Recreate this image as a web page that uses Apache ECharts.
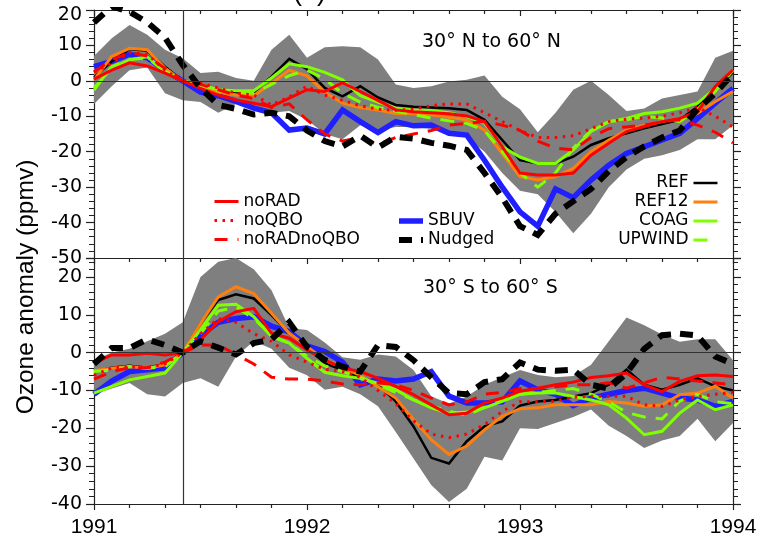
<!DOCTYPE html>
<html><head><meta charset="utf-8">
<script src="https://cdn.jsdelivr.net/npm/echarts@6/dist/echarts.min.js"></script>
<style>html,body{margin:0;padding:0;background:#fff}#c{width:761px;height:543px}</style>
</head><body><div id="c"></div>
<script>
// ---- time axis (monthly, Jan 1991 .. Jan 1994) ----
const months = ['1991-01','1991-02','1991-03','1991-04','1991-05','1991-06','1991-07','1991-08','1991-09','1991-10','1991-11','1991-12',
  '1992-01','1992-02','1992-03','1992-04','1992-05','1992-06','1992-07','1992-08','1992-09','1992-10','1992-11','1992-12',
  '1993-01','1993-02','1993-03','1993-04','1993-05','1993-06','1993-07','1993-08','1993-09','1993-10','1993-11','1993-12','1994-01'];
const eruption = 1991 + 5/12;
const yearTicks = [1991, 1992, 1993, 1994];
const panelLabels = ['30\u00B0 N to 60\u00B0 N', '30\u00B0 S to 60\u00B0 S'];

// ---- 30N-60N ----
const upperN = [7,12,15.8,13,8.8,6.4,2.2,2.6,0.8,0,8.8,13,6.5,9.5,9.8,9.5,6,-1,-2,-1.5,-0.2,0.3,1.5,-4.5,-8,-14.5,-9,-2.5,0,-4,-8.5,-7.8,-5,-4,-3,6.5,8.5];
const lowerN = [-6.5,-1.5,3,3.8,-3.5,-5.5,-6,-9,-6.5,-8,-9,-8.5,-11,-15,-16.5,-12.5,-14,-13,-13,-13.5,-14.5,-16,-20,-26,-31,-32,-37,-43,-37.5,-30,-25,-22,-21,-19.5,-16.5,-16.5,-12.5];
const sbuvN = [4,5.5,7.5,6.5,3,0,-3.2,-4.2,-5.8,-7.7,-9,-13.9,-13.3,-15,-8.2,-11.5,-14.6,-11.5,-12.7,-12.5,-14.8,-15.3,-22.4,-30,-37,-41,-30.5,-33,-28,-23.8,-20.5,-18.6,-16.7,-14.8,-10.6,-6.3,-2.1];
const nudgedN = [16.5,21,19.5,16.5,12.2,4.5,-2,-6.8,-7.9,-9.5,-9,-10,-14,-17,-18.5,-15.5,-18.8,-15.8,-16.3,-17.5,-18.3,-19.5,-26,-33,-41,-43.5,-37.5,-34,-30.5,-25.5,-21.5,-18.5,-16,-14,-8,-3.5,2];
const refN = [1,5.5,9,8.5,4,0,-1.6,-2.5,-3.2,-3.2,1.2,6.2,3.3,-2,-4.4,-1.5,-4.7,-6.8,-7.3,-7.5,-7.7,-8.2,-11,-16.7,-22.4,-23.3,-23.3,-21.4,-18.1,-16.2,-14.8,-13.4,-12.2,-11,-7.3,-2.5,2.4];
const ref12N = [0.3,6.9,9.2,8.8,3.6,0,-1.6,-3.2,-4,-4.2,-0.7,3,1.4,-3.2,-6.3,-7.5,-8.2,-9.2,-9.3,-9.6,-10.3,-11,-13.9,-20.5,-27,-28,-27,-24.7,-20,-16.7,-13.9,-12.5,-11.5,-10.6,-9.2,-5.8,-3];
const coagN = [-2,3.6,6,6.8,2.8,0,-1.1,-2.5,-2.8,-2.8,0.8,4.8,4,2.4,0.3,-4.2,-6,-7.7,-8.2,-8.4,-9,-10.1,-12,-18.6,-21.5,-23.3,-23.3,-19.5,-14.3,-11.5,-10.6,-9.2,-8.7,-7.7,-6.3,-2.1,3.1];
const upwindN = [-2.6,4,6,6.5,2.5,0,-1.3,-2.8,-3.2,-3.5,-1,1.5,3,0.5,-3.5,-6,-7.5,-8.5,-9.5,-10.5,-11.3,-12,-14,-20,-26,-30,-26,-19,-14,-11.5,-11,-10,-10.5,-11.5,-8,-3,3];
const noRadN = [0.5,3,5.1,4.2,2.2,0,-2.1,-4,-5.4,-6.3,-7.3,-4.9,-2.5,-3,-0.5,-3,-5.5,-8.2,-8.7,-9,-9.3,-9.9,-11.5,-18.6,-26,-26.6,-26.6,-26,-21,-17.6,-14.3,-12.9,-11.5,-10.6,-8.7,-1.6,3.1];
const noQboN = [2.5,5,8,7.5,3,0,-0.7,-2,-3.5,-4,-6.8,-4.5,-1.5,-4,-5.5,-7,-8,-8.3,-8,-7,-6.5,-6.5,-9,-11.5,-14,-16,-16,-15.5,-13.5,-11.5,-10.8,-10.5,-10,-9,-7.5,-10,-13];
const noRadNoQboN = [2.5,6,8,7,3.5,0,-1,-2.5,-4,-5,-7.5,-6.5,-11,-15,-17,-16,-18,-16,-15,-14,-12.5,-12,-11.5,-12.5,-14,-17,-19,-19.5,-16,-13.5,-13,-12.5,-11.5,-11,-12.5,-14.5,-17.5];

// ---- 30S-60S ----
const upperS = [-2,0,1,3,5,8,20,24,25,22,16.5,6.5,6,2.7,-1.2,-1.9,-0.5,-1,-4.6,-11.5,-13.5,-11.6,-8.5,-6.5,-4.6,-5.9,-6.5,-6.2,-3.2,3,9.3,7.2,4.8,2.9,3.5,3.5,-2];
const lowerS = [-11,-9.5,-8,-11,-11.6,-8,-6.8,-9,-1,3,1,-4,-6,-9.8,-9,-11,-14.2,-21,-28,-35,-39.5,-36,-27.5,-28.5,-20,-20.2,-18.6,-17,-15,-19.3,-22,-25.2,-23.2,-22,-17.5,-23.4,-18.6];
const sbuvS = [-11,-7.5,-5,-4.5,-4,0,4.5,8,9,9.5,7,5.5,1.8,0.3,-2.5,-8.5,-7,-7.5,-7,-5,-11.5,-13.3,-13.3,-13,-7.5,-9.8,-11,-14,-12,-11,-10,-9.4,-10.7,-12,-12.5,-14.2,-12.9];
const nudgedS = [-3,1.2,1.2,3.5,2,0,3,1.3,-0.5,2.5,3.5,8,1.5,-1.9,-3.7,-5,2,1.5,-2,-6.5,-10.7,-11,-7.8,-7,-2.6,-4.5,-4.8,-4.5,-8.5,-9.5,-5.5,1,4.6,5,4.5,-1,-3];
const refS = [-5,-4,-3.5,-4,-3,0,7.7,13.9,15.4,14.3,9.9,5.1,1.6,-2.8,-4.6,-6.3,-8.5,-12.9,-19.5,-27.8,-29.3,-23.4,-19.5,-18.2,-14,-12.9,-12.5,-11.6,-10.7,-8.5,-4.5,-8.5,-9.8,-8.5,-6.8,-8.9,-10];
const ref12S = [-4.8,-4.1,-3.7,-4.1,-3.2,0,7.7,14.7,17.4,15.6,10.4,5.1,1.6,-2,-4,-6,-9,-12,-17.7,-23,-26.9,-24.7,-20.4,-16.8,-14.8,-14.6,-13.8,-13.8,-13.8,-12.9,-13.3,-14.2,-13.8,-11.1,-10.7,-8.9,-12];
const coagS = [-10.7,-8.9,-7.2,-6.3,-5.4,0,6,12.5,12.8,9.5,4.2,2.5,-1.5,-5.2,-6.1,-6.8,-8.1,-9.8,-12.5,-14.6,-16,-15.7,-14.6,-12.9,-11,-10.7,-10.7,-11.6,-12.5,-13.8,-17.3,-21.7,-20.8,-16,-12.5,-15.1,-13.8];
const upwindS = [-5,-4.6,-3.7,-4.1,-3.7,0,5,11,12,9,4.5,2.5,-1,-3.5,-5,-6.5,-8.5,-10.5,-12.5,-14,-15.5,-16.5,-14.5,-12.5,-11,-10.5,-10,-9.5,-11,-13,-15.8,-17,-17.5,-12.8,-11,-13,-13.5];
const noRadS = [-2.8,-0.6,-0.6,-0.2,-0.6,0,3.3,8.2,10.8,11.7,5.1,3.8,0.7,-1.9,-4.1,-5,-6.8,-8.9,-11.1,-13.8,-16.4,-16,-13.3,-12,-10.2,-9.4,-8.5,-7.8,-6.6,-6.1,-5.4,-8.5,-10.3,-7.6,-6.1,-5.9,-6.3];
const noQboS = [-6,-4,-3.7,-4,-3,0,5,9,8,5,3,-0.6,-2.5,-4.4,-5,-6.5,-10,-13.5,-18,-21.5,-22.5,-21.5,-19,-15.5,-13,-13,-12.8,-11.8,-11.5,-11.5,-11.5,-13.8,-14.2,-12.5,-11.6,-11,-10.5];
const noRadNoQboS = [-7,-5,-4,-4,-2.5,0,2,2,-0.5,-3,-6.5,-7,-7,-7.5,-8.3,-8.5,-8,-8.5,-10,-12,-13.8,-13,-11,-10.5,-9.5,-9.5,-9,-8.5,-8.5,-8,-9.4,-8,-6.5,-7,-7.5,-8,-8.5];

// ---- build ----
const t = months.map(s => { const p = s.split('-').map(Number); return p[0] + (p[1] - 1) / 12; });
const pair = arr => arr.map((v, i) => [t[i], v]);

const styles = {
  'noRAD':      {color:'#ff0000', width:3,   type:'solid'},
  'noQBO':      {color:'#ff0000', width:3,   type:[2.5,5.5]},
  'noRADnoQBO': {color:'#ff0000', width:3,   type:[13,10]},
  'SBUV':       {color:'#1f1fff', width:5.5, type:'solid'},
  'Nudged':     {color:'#000000', width:6,   type:[13,9]},
  'REF':        {color:'#000000', width:2.5, type:'solid'},
  'REF12':      {color:'#ff7f0e', width:3,   type:'solid'},
  'COAG':       {color:'#80ff00', width:3,   type:'solid'},
  'UPWIND':     {color:'#80ff00', width:3,   type:[14,10]}
};
const refLines = {silent:true, symbol:'none', label:{show:false}, animation:false,
  lineStyle:{color:'#333', width:1.2, type:'solid'}, data:[{yAxis:0}, {xAxis:eruption}]};

function line(name, data, gi) {
  const s = styles[name];
  const ser = {
    name, type:'line', xAxisIndex: gi === 0 ? 0 : 2, yAxisIndex: gi === 0 ? 0 : 2,
    data: pair(data), symbol:'none', silent:true, z:3, clip:true,
    lineStyle:{color:s.color, width:s.width, type:s.type, cap:'butt', join:'miter'},
    itemStyle:{color:s.color}
  };
  if (name === 'SBUV') ser.markLine = refLines;
  return ser;
}
function envelope(lower, upper, gi) {
  const xi = gi === 0 ? 0 : 2;
  const data = lower.map((l, i) => [t[i], l, upper[i]]);
  return {
    type:'custom', xAxisIndex:xi, yAxisIndex:xi, silent:true, z:1, clip:true,
    encode:{x:0, y:[1, 2]}, data,
    renderItem(params, api) {
      if (params.dataIndex !== 0) return null;
      const top = data.map(d => api.coord([d[0], d[2]]));
      const bot = data.map(d => api.coord([d[0], d[1]])).reverse();
      return {type:'polygon', shape:{points: top.concat(bot)},
        style:{fill:'#7f7f7f', stroke:null, lineWidth:0, opacity:1}};
    }
  };
}

const order = ['SBUV','REF','REF12','COAG','UPWIND','noRAD','noQBO','noRADnoQBO','Nudged'];
const dataN = {SBUV:sbuvN, Nudged:nudgedN, REF:refN, REF12:ref12N, COAG:coagN, UPWIND:upwindN, noRAD:noRadN, noQBO:noQboN, noRADnoQBO:noRadNoQboN};
const dataS = {SBUV:sbuvS, Nudged:nudgedS, REF:refS, REF12:ref12S, COAG:coagS, UPWIND:upwindS, noRAD:noRadS, noQBO:noQboS, noRADnoQBO:noRadNoQboS};

const series = [
  envelope(lowerN, upperN, 0),
  envelope(lowerS, upperS, 1),
  ...order.map(n => line(n, dataN[n], 0)),
  ...order.map(n => line(n, dataS[n], 1))
];

const axisLine = {show:true, onZero:false, lineStyle:{color:'#222', width:1.2}};
const xBase = {type:'value', min:yearTicks[0], max:yearTicks[yearTicks.length-1], interval:1,
  axisLine, splitLine:{show:false},
  axisTick:{show:true, length:6, lineStyle:{color:'#222', width:1.2}},
  minorTick:{show:true, splitNumber:6, length:4, lineStyle:{color:'#222', width:1.2}}};
const yBase = (min, max) => ({type:'value', min, max, interval:10, axisLine, splitLine:{show:false},
  axisTick:{show:true, length:8, lineStyle:{color:'#222', width:1.2}},
  minorTick:{show:true, splitNumber:5, length:5, lineStyle:{color:'#222', width:1}}});

const labelY = {show:true, margin:12, color:'#000', fontFamily:'DejaVu Sans', fontSize:19};
const labelYTop = {...labelY,
  formatter: v => v === 20 ? '{t|20}' : String(v),
  rich:{t:{padding:[11,0,0,0], fontFamily:'DejaVu Sans', fontSize:19, color:'#000'}}};
const textBase = {fill:'#000'};

const option = {
  animation:false,
  backgroundColor:'#fff',
  grid:[
    {left:94, right:28, top:10, height:248},
    {left:94, right:28, top:258, height:246}
  ],
  xAxis:[
    {...xBase, gridIndex:0, position:'bottom', axisLabel:{show:false}},
    {...xBase, gridIndex:0, position:'top', axisLabel:{show:false},
      axisTick:{...xBase.axisTick, inside:true}},
    {...xBase, gridIndex:1, position:'bottom',
      axisLabel:{show:true, margin:13, color:'#000', fontFamily:'Liberation Sans', fontSize:21,
        formatter: v => String(v)}}
  ],
  yAxis:[
    {...yBase(-50, 20), gridIndex:0, position:'left', axisLabel:labelYTop},
    {...yBase(-50, 20), gridIndex:0, position:'right', axisLabel:{show:false}},
    {...yBase(-40, 25), gridIndex:1, position:'left', axisLabel:{...labelY, showMaxLabel:false}},
    {...yBase(-40, 25), gridIndex:1, position:'right', axisLabel:{show:false}}
  ],
  legend:[
    {data:['noRAD','noQBO','noRADnoQBO'], left:213, top:193, orient:'vertical'},
    {data:['SBUV','Nudged'], left:396, top:212.5, orient:'vertical'},
    {data:['REF','REF12','COAG','UPWIND'], right:42, top:174.5, orient:'vertical', align:'right'}
  ].map(l => ({...l, selectedMode:false, itemWidth:24, itemHeight:14, itemGap:2, padding:0,
      lineStyle:{width:'inherit'}, itemStyle:{opacity:0},
      textStyle:{color:'#000', fontFamily:'DejaVu Sans', fontSize:17}})),
  graphic:[
    {type:'text', left:422, top:33, style:{...textBase, text:panelLabels[0], font:'19px "DejaVu Sans"'}},
    {type:'text', left:423, top:279, style:{...textBase, text:panelLabels[1], font:'19px "DejaVu Sans"'}},
    {type:'text', x:26, y:287, rotation:Math.PI/2,
      style:{...textBase, text:'Ozone anomaly (ppmv)', font:'24.5px "Liberation Sans"', align:'center', verticalAlign:'middle'}},
    {type:'text', x:293, y:6,
      style:{...textBase, text:'(a) Total ozone column', font:'27px "Liberation Sans"', align:'left', verticalAlign:'bottom'}}
  ],
  series
};
const chart = echarts.init(document.getElementById('c'), null, {renderer:'canvas'});
chart.setOption(option);
</script></body></html>
